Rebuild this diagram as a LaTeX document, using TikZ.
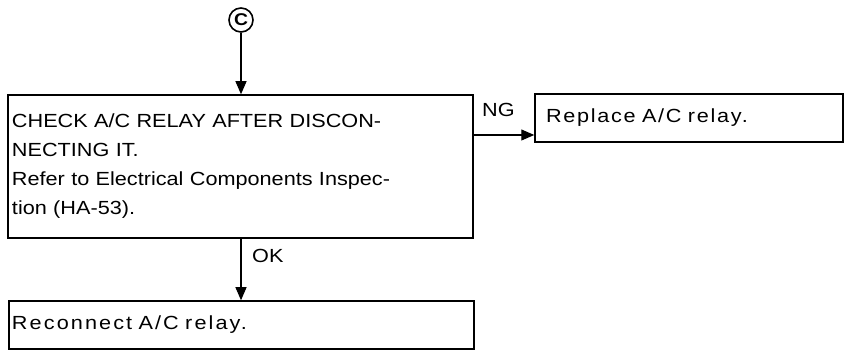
\documentclass[tikz,border=0pt]{standalone}
\usepackage{fontspec}
\setmainfont{Liberation Sans}[FakeStretch=1.14]
\usetikzlibrary{arrows.meta}
\begin{document}
\begin{tikzpicture}[x=1pt,y=-1pt,
  every node/.style={font=\fontsize{19}{29}\selectfont},
  box/.style={draw,line width=1.5pt,rectangle,align=left,inner ysep=0pt},
  wide/.style={font=\fontsize{19}{29}\selectfont\addfontfeatures{LetterSpace=#1}},
  arr/.style={line width=1.1pt,-{Triangle[length=13pt,width=11pt]}},
  lbl/.style={anchor=base west,inner sep=0pt}]
\useasboundingbox (0,0) rectangle (851,352);
\node[circle,draw,line width=1.6pt,minimum size=24pt,inner sep=0pt,font=\fontsize{17}{17}\selectfont\bfseries] (c) at (241,20) {C};
\node[box,minimum height=143pt,inner xsep=4pt,text width=457pt] (main) at (240.5,166.5)
  {CHECK A/C RELAY AFTER DISCON-\\NECTING IT.\\Refer to Electrical Components Inspec-\\tion (HA-53).};
\node[box,wide=9,minimum height=48pt,inner xsep=11pt,text width=286pt] (repl) at (689,118) {Replace A/C relay.};
\node[box,wide=11,minimum height=48pt,inner xsep=3pt,text width=459pt] (recon) at (241.5,325) {Reconnect A/C relay.};
\coordinate (ngy) at (0,135);
\draw[arr] (c) -- (c |- main.north);
\draw[arr] (main.east |- ngy) -- (repl.west |- ngy);
\draw[arr] (main.south -| c) -- (recon.north -| c);
\node[lbl] (ng) at (482,117) {NG};
\node[lbl] (ok) at (252,263) {OK};
\end{tikzpicture}
\end{document}
